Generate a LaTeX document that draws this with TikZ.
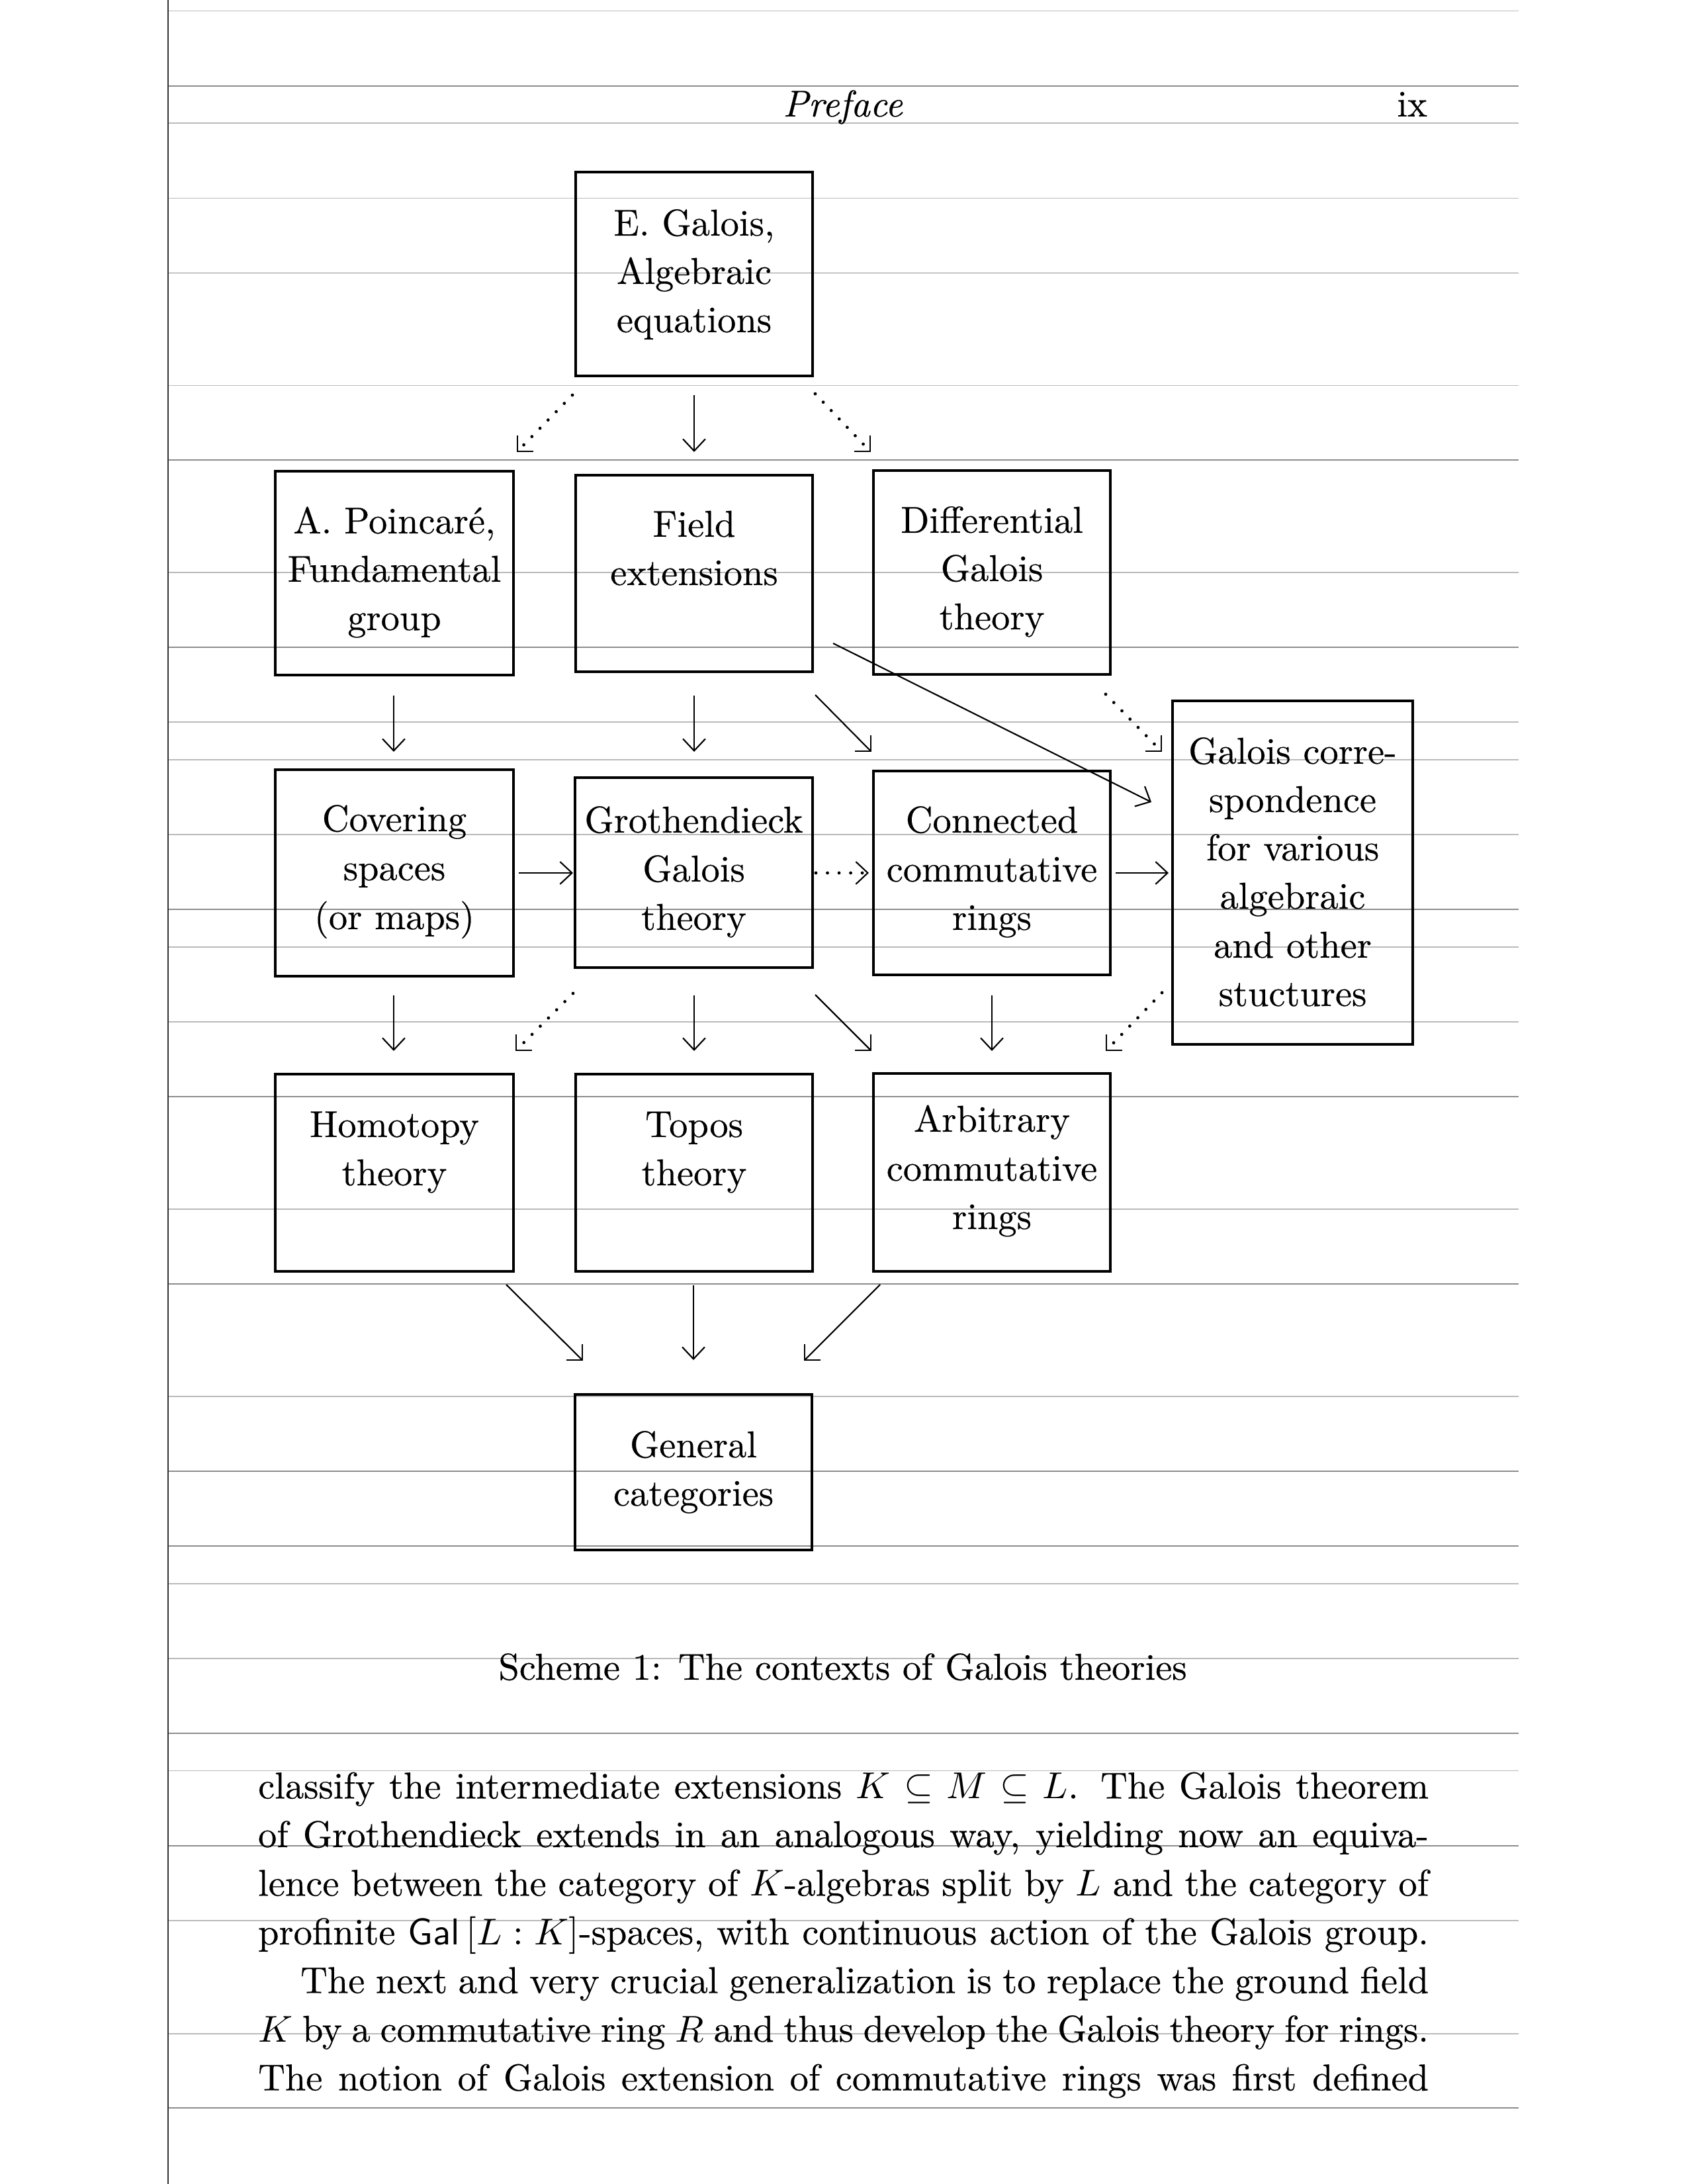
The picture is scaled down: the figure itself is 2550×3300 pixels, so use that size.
\documentclass[tikz,border=0pt]{standalone}
\usepackage{fontspec}
\setmainfont{Latin Modern Roman}[FakeBold=0.35]
\usetikzlibrary{arrows.meta}
\tikzset{
  box/.style={draw, line width=0.6pt, inner sep=0pt},
  lbl/.style={anchor=base, inner sep=0pt, font=\fontsize{10pt}{13pt}\selectfont},
  arr/.style={line width=0.38pt, -{Straight Barb[length=3.2pt,width=6pt]}},
  dotl/.style={line width=0.85pt, line cap=round, dash pattern=on 0pt off 3.1pt},
  dotarr/.style={dotl, -{Straight Barb[length=3.2pt,width=6pt,line width=0.38pt]}},
  dhead/.style={line width=0.5pt},
  darkrule/.style={line width=0.3pt, black!45},
  lightrule/.style={line width=0.3pt, black!27},
}
\newcommand{\gbox}[5]{\node[box, minimum width={(#4-#2)*0.177pt}, minimum height={(#5-#3)*0.177pt}] (#1) at ({(#2+#4)/2},{(#3+#5)/2}) {};}
\newcommand{\tline}[4]{\node[lbl] (#1) at (#2,#3) {#4};}
\newcommand{\sehead}[1]{\draw[dhead] (#1) ++(0,-24) -- (#1) -- ++(-24,0);}
\newcommand{\swhead}[1]{\draw[dhead] (#1) ++(0,-24) -- (#1) -- ++(24,0);}
\begin{document}
\begin{tikzpicture}[x=0.177pt, y=-0.177pt]
\fill[white] (0,0) rectangle (2550,3300);
\useasboundingbox (0,0) rectangle (2550,3300);
% ruled background
\foreach \yy in {16.5,186,299.5,582.5,865,1091,1148,1261,1431,1544,1827,2110,2393,2506,2675.5,2902,3073}
  \draw[lightrule] (254,\yy) -- (2295,\yy);
\foreach \yy in {130,412.5,695,978,1374,1657,1940,2223,2336,2619,2789,3185}
  \draw[darkrule] (254,\yy) -- (2295,\yy);
\draw[line width=0.3pt, black!80] (254,0) -- (254,3300);

% header
\node[lbl] (hdr) at (1273.5,176) {\itshape Preface};
\node[lbl, anchor=base east] (pg) at (2158,176) {ix};

% boxes
\gbox{gal}{870}{260}{1228}{568}
\gbox{poi}{416}{712}{776}{1020}
\gbox{fld}{870}{718}{1228}{1015}
\gbox{dif}{1320}{711}{1678}{1019}
\gbox{cov}{416}{1163}{776}{1475}
\gbox{gro}{869}{1175}{1228}{1462}
\gbox{con}{1320}{1165}{1678}{1473}
\gbox{gco}{1772}{1059}{2135}{1578}
\gbox{hom}{416}{1623}{776}{1921}
\gbox{top}{870}{1623}{1228}{1921}
\gbox{arb}{1320}{1622}{1678}{1921}
\gbox{gen}{869}{2107}{1227}{2342}

% box texts
\tline{gal1}{1049}{356}{E. Galois,}
\tline{gal2}{1049}{429}{Algebraic}
\tline{gal3}{1049}{502}{equations}
\tline{poi1}{596}{806}{A. Poincar\'e,}
\tline{poi2}{596}{879}{Fundamental}
\tline{poi3}{596}{952}{group}
\tline{fld1}{1049}{811}{Field}
\tline{fld2}{1049}{884}{extensions}
\tline{dif1}{1499}{805}{Differential}
\tline{dif2}{1499}{878}{Galois}
\tline{dif3}{1499}{951}{theory}
\tline{cov1}{596}{1256}{Covering}
\tline{cov2}{596}{1330}{spaces}
\tline{cov3}{596}{1404}{(or maps)}
\tline{gro1}{1048.5}{1258}{Grothendieck}
\tline{gro2}{1048.5}{1332}{Galois}
\tline{gro3}{1048.5}{1405}{theory}
\tline{con1}{1499}{1258}{Connected}
\tline{con2}{1499}{1332}{commutative}
\tline{con3}{1499}{1405}{rings}
\tline{gco1}{1953.5}{1154}{Galois corre-}
\tline{gco2}{1953.5}{1227}{spondence}
\tline{gco3}{1953.5}{1300}{for various}
\tline{gco4}{1953.5}{1373}{algebraic}
\tline{gco5}{1953.5}{1447}{and other}
\tline{gco6}{1953.5}{1520}{stuctures}
\tline{hom1}{596}{1718}{Homotopy}
\tline{hom2}{596}{1791}{theory}
\tline{top1}{1049}{1718}{Topos}
\tline{top2}{1049}{1791}{theory}
\tline{arb1}{1499}{1710}{Arbitrary}
\tline{arb2}{1499}{1784}{commutative}
\tline{arb3}{1499}{1857}{rings}
\tline{gen1}{1048}{2202}{General}
\tline{gen2}{1048}{2275}{categories}

% connector end points
\coordinate (d1s) at (865,597);   \coordinate (d1e) at (782,682);
\coordinate (v1s) at (1049,597);  \coordinate (v1e) at (1049,683);
\coordinate (d2s) at (1232,595);  \coordinate (d2e) at (1315,682);
\coordinate (v2s) at (595,1051);  \coordinate (v2e) at (595,1136);
\coordinate (v3s) at (1049,1051); \coordinate (v3e) at (1049,1136);
\coordinate (s1s) at (1232,1050); \coordinate (s1e) at (1316,1135);
\coordinate (lgs) at (1259,972);  \coordinate (lge) at (1740,1212);
\coordinate (d3s) at (1671,1049); \coordinate (d3e) at (1755,1135);
\coordinate (h1s) at (784,1319);  \coordinate (h1e) at (866,1319);
\coordinate (h2s) at (1233,1319); \coordinate (h2e) at (1313,1319);
\coordinate (h3s) at (1686,1319); \coordinate (h3e) at (1766,1319);
\coordinate (v4s) at (595,1504);  \coordinate (v4e) at (595,1588);
\coordinate (d4s) at (866,1501);  \coordinate (d4e) at (780,1587);
\coordinate (v5s) at (1049,1504); \coordinate (v5e) at (1049,1588);
\coordinate (s2s) at (1232,1503); \coordinate (s2e) at (1316,1587);
\coordinate (v6s) at (1499,1504); \coordinate (v6e) at (1499,1588);
\coordinate (d5s) at (1756,1500); \coordinate (d5e) at (1672,1587);
\coordinate (s3s) at (765,1941);  \coordinate (s3e) at (880,2055);
\coordinate (v7s) at (1048,1942); \coordinate (v7e) at (1048,2055);
\coordinate (s4s) at (1330,1941); \coordinate (s4e) at (1216,2055);

% row 1 -> 2
\draw[dotl] (d1s) -- (d1e); \swhead{d1e}
\draw[arr] (v1s) -- (v1e);
\draw[dotl] (d2s) -- (d2e); \sehead{d2e}
% row 2 -> 3
\draw[arr] (v2s) -- (v2e);
\draw[arr] (v3s) -- (v3e);
\draw[line width=0.38pt] (s1s) -- (s1e); \sehead{s1e}
\draw[arr] (lgs) -- (lge);
\draw[dotl] (d3s) -- (d3e); \sehead{d3e}
% row 3
\draw[arr] (h1s) -- (h1e);
\draw[dotarr] (h2s) -- (h2e);
\draw[arr] (h3s) -- (h3e);
% row 3 -> 4
\draw[arr] (v4s) -- (v4e);
\draw[dotl] (d4s) -- (d4e); \swhead{d4e}
\draw[arr] (v5s) -- (v5e);
\draw[line width=0.38pt] (s2s) -- (s2e); \sehead{s2e}
\draw[arr] (v6s) -- (v6e);
\draw[dotl] (d5s) -- (d5e); \swhead{d5e}
% row 4 -> 5
\draw[line width=0.38pt] (s3s) -- (s3e); \sehead{s3e}
\draw[arr] (v7s) -- (v7e);
\draw[line width=0.38pt] (s4s) -- (s4e); \swhead{s4e}

% caption
\node[lbl] (cap) at (1273.5,2538) {Scheme 1: The contexts of Galois theories};

% body text
\node[lbl, anchor=base west] (b1) at (389,2717.5) {\makebox[313.1pt][s]{classify the intermediate extensions $K \subseteq M \subseteq L$. The Galois theorem}};
\node[lbl, anchor=base west] (b2) at (389,2791) {\makebox[313.1pt][s]{of Grothendieck extends in an analogous way, yielding now an equiva-}};
\node[lbl, anchor=base west] (b3) at (389,2864.5) {\makebox[313.1pt][s]{lence between the category of $K$-algebras split by $L$ and the category of}};
\node[lbl, anchor=base west] (b4) at (389,2938) {\makebox[313.1pt][s]{profinite $\mathsf{Gal}\,[L:K]$-spaces, with continuous action of the Galois group.}};
\node[lbl, anchor=base west] (b5) at (453,3011.5) {\makebox[301.8pt][s]{The next and very crucial generalization is to replace the ground field}};
\node[lbl, anchor=base west] (b6) at (389,3085) {\makebox[313.1pt][s]{$K$ by a commutative ring $R$ and thus develop the Galois theory for rings.}};
\node[lbl, anchor=base west] (b7) at (389,3158.5) {\makebox[313.1pt][s]{The notion of Galois extension of commutative rings was first defined}};
\end{tikzpicture}
\end{document}
